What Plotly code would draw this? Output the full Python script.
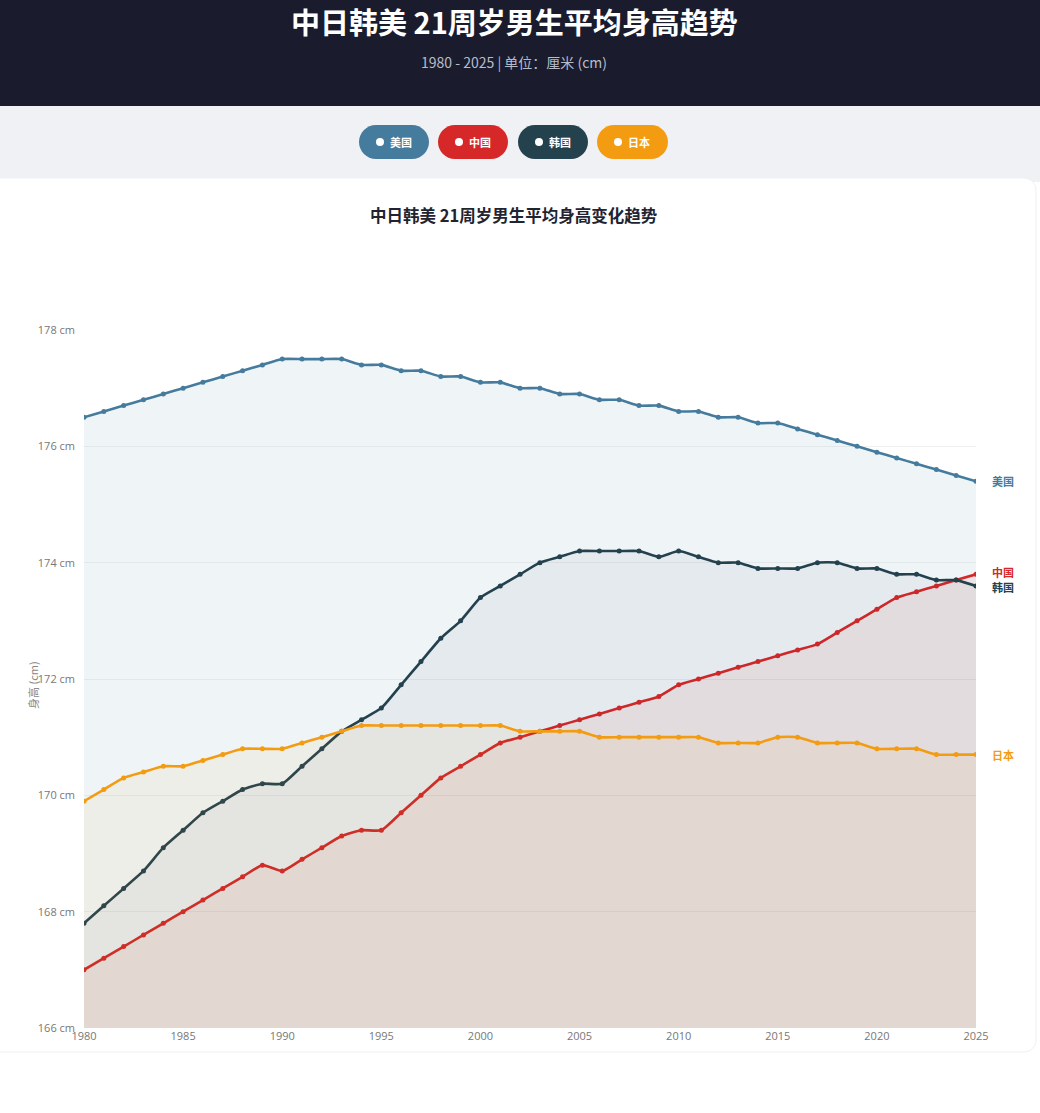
import plotly.graph_objects as go

# ---------------- data ----------------
years = list(range(1980, 2026))
series_names = ["美国", "中国", "韩国", "日本"]
usa = [176.5, 176.6, 176.7, 176.8, 176.9, 177.0, 177.1, 177.2, 177.3, 177.4,
       177.5, 177.5, 177.5, 177.5, 177.4, 177.4, 177.3, 177.3, 177.2, 177.2,
       177.1, 177.1, 177.0, 177.0, 176.9, 176.9, 176.8, 176.8, 176.7, 176.7,
       176.6, 176.6, 176.5, 176.5, 176.4, 176.4, 176.3, 176.2, 176.1, 176.0,
       175.9, 175.8, 175.7, 175.6, 175.5, 175.4]
china = [167.0, 167.2, 167.4, 167.6, 167.8, 168.0, 168.2, 168.4, 168.6, 168.8,
         168.7, 168.9, 169.1, 169.3, 169.4, 169.4, 169.7, 170.0, 170.3, 170.5,
         170.7, 170.9, 171.0, 171.1, 171.2, 171.3, 171.4, 171.5, 171.6, 171.7,
         171.9, 172.0, 172.1, 172.2, 172.3, 172.4, 172.5, 172.6, 172.8, 173.0,
         173.2, 173.4, 173.5, 173.6, 173.7, 173.8]
korea = [167.8, 168.1, 168.4, 168.7, 169.1, 169.4, 169.7, 169.9, 170.1, 170.2,
         170.2, 170.5, 170.8, 171.1, 171.3, 171.5, 171.9, 172.3, 172.7, 173.0,
         173.4, 173.6, 173.8, 174.0, 174.1, 174.2, 174.2, 174.2, 174.2, 174.1,
         174.2, 174.1, 174.0, 174.0, 173.9, 173.9, 173.9, 174.0, 174.0, 173.9,
         173.9, 173.8, 173.8, 173.7, 173.7, 173.6]
japan = [169.9, 170.1, 170.3, 170.4, 170.5, 170.5, 170.6, 170.7, 170.8, 170.8,
         170.8, 170.9, 171.0, 171.1, 171.2, 171.2, 171.2, 171.2, 171.2, 171.2,
         171.2, 171.2, 171.1, 171.1, 171.1, 171.1, 171.0, 171.0, 171.0, 171.0,
         171.0, 171.0, 170.9, 170.9, 170.9, 171.0, 171.0, 170.9, 170.9, 170.9,
         170.8, 170.8, 170.8, 170.7, 170.7, 170.7]
y_ticks = [166, 168, 170, 172, 174, 176, 178]
x_ticks = [1980, 1985, 1990, 1995, 2000, 2005, 2010, 2015, 2020, 2025]

colors = ["#457b9d", "#d62828", "#24414e", "#f39c12"]
fills = ["rgba(69,123,157,0.085)", "rgba(200,60,30,0.075)",
         "rgba(36,65,78,0.05)", "rgba(243,156,18,0.06)"]
values = [usa, china, korea, japan]
label_shift = [0, 2, -1, 0]

# ---------------- layout geometry ----------------
W, H = 1040, 1113
L, R, T, B = 84, 976, 330, 1028
FONT = "Open Sans, Noto Sans CJK SC, sans-serif"
CJK = "Noto Sans CJK SC, Open Sans, sans-serif"


def px(x):
    return (x - L) / (R - L)


def py(y):
    return (B - y) / (B - T)


def rrect(x0, y0, x1, y1, r, tl=True, tr=True, br=True, bl=True):
    k = 0.4477  # 1 - 0.5523
    def P(x, y):
        return f"{px(x):.6f},{py(y):.6f}"
    rtl = r if tl else 0
    rtr = r if tr else 0
    rbr = r if br else 0
    rbl = r if bl else 0
    p = f"M {P(x0 + rtl, y0)} L {P(x1 - rtr, y0)} "
    if rtr:
        p += f"C {P(x1 - rtr * k, y0)} {P(x1, y0 + rtr * k)} {P(x1, y0 + rtr)} "
    p += f"L {P(x1, y1 - rbr)} "
    if rbr:
        p += f"C {P(x1, y1 - rbr * k)} {P(x1 - rbr * k, y1)} {P(x1 - rbr, y1)} "
    p += f"L {P(x0 + rbl, y1)} "
    if rbl:
        p += f"C {P(x0 + rbl * k, y1)} {P(x0, y1 - rbl * k)} {P(x0, y1 - rbl)} "
    p += f"L {P(x0, y0 + rtl)} "
    if rtl:
        p += f"C {P(x0, y0 + rtl * k)} {P(x0 + rtl * k, y0)} {P(x0 + rtl, y0)} "
    return p + "Z"


fig = go.Figure()

for name, vals, c, f in zip(series_names, values, colors, fills):
    fig.add_trace(go.Scatter(
        x=years, y=vals, name=name, mode="lines+markers",
        line=dict(color=c, width=2.6, shape="spline", smoothing=0.5),
        marker=dict(color=c, size=5),
        fill="tozeroy", fillcolor=f,
        showlegend=False, hoverinfo="x+y+name",
    ))

shapes = []
annotations = []

# header band
shapes.append(dict(type="rect", xref="paper", yref="paper",
                   x0=px(-5), x1=px(W + 5), y0=py(0 - 5), y1=py(106),
                   fillcolor="#1a1c2e", line=dict(width=0), layer="below"))
# light gray band
shapes.append(dict(type="rect", xref="paper", yref="paper",
                   x0=px(-5), x1=px(W + 5), y0=py(106), y1=py(182),
                   fillcolor="#eff1f4", line=dict(width=0), layer="below"))
# white card
shapes.append(dict(type="path", xref="paper", yref="paper",
                   path=rrect(-20, 178, 1036, 1052, 12),
                   fillcolor="#ffffff", line=dict(color="#eef0f2", width=1),
                   layer="below"))

annotations.append(dict(text="<b>中日韩美 21周岁男生平均身高趋势</b>", xref="paper", yref="paper",
                        x=px(514), y=py(21), xanchor="center", yanchor="middle",
                        showarrow=False, font=dict(family=CJK, size=29, color="#ffffff")))
annotations.append(dict(text="1980 - 2025 | 单位：厘米 (cm)", xref="paper", yref="paper",
                        x=px(514), y=py(62), xanchor="center", yanchor="middle",
                        showarrow=False, font=dict(family=CJK, size=14, color="#b8bcc8")))

# pill buttons
pills = [(359, 429), (438, 508), (518, 588), (597, 668)]
for (x0, x1), name, c in zip(pills, series_names, colors):
    shapes.append(dict(type="path", xref="paper", yref="paper",
                       path=rrect(x0, 125, x1, 159, 17),
                       fillcolor=c, line=dict(width=0), layer="below"))
    cx = x0 + 21
    shapes.append(dict(type="circle", xref="paper", yref="paper",
                       x0=px(cx - 4), x1=px(cx + 4), y0=py(142 + 4), y1=py(142 - 4),
                       fillcolor="#ffffff", line=dict(width=0), layer="below"))
    annotations.append(dict(text=f"<b>{name}</b>", xref="paper", yref="paper",
                            x=px(cx + 8), y=py(142), xanchor="left", yanchor="middle",
                            showarrow=False, font=dict(family=CJK, size=11, color="#ffffff")))

annotations.append(dict(text="<b>中日韩美 21周岁男生平均身高变化趋势</b>", xref="paper", yref="paper",
                        x=px(514), y=py(215), xanchor="center", yanchor="middle",
                        showarrow=False, font=dict(family=CJK, size=16.5, color="#1f2430")))

# y-axis title
annotations.append(dict(text="身高 (cm)", xref="paper", yref="paper",
                        x=px(33), y=py(685), xanchor="center", yanchor="middle",
                        textangle=-90, showarrow=False,
                        font=dict(family=CJK, size=11, color="#888888")))

# end labels
for name, vals, c, s in zip(series_names, values, colors, label_shift):
    annotations.append(dict(text=f"<b>{name}</b>", x=years[-1], y=vals[-1],
                            xref="x", yref="y", xanchor="left", yanchor="middle",
                            xshift=14, yshift=s, showarrow=False,
                            font=dict(family=CJK, size=11, color=c)))

fig.update_layout(
    width=W, height=H,
    margin=dict(l=L, r=W - R, t=T, b=H - B, pad=0),
    paper_bgcolor="#ffffff", plot_bgcolor="rgba(0,0,0,0)",
    shapes=shapes, annotations=annotations,
    font=dict(family=FONT, color="#666666"),
    xaxis=dict(range=[1980, 2025], tickvals=x_ticks, showgrid=False,
               zeroline=False, showline=False, ticks="",
               tickfont=dict(size=11, color="#777777")),
    yaxis=dict(range=[166, 178], tickvals=y_ticks,
               ticktext=[f"{v} cm" for v in y_ticks],
               showgrid=True, gridcolor="#f1f1f1", gridwidth=1,
               zeroline=False, showline=False, ticks="",
               ticklabelstandoff=8,
               tickfont=dict(size=11, color="#777777")),
)

fig.write_html("out.html")
